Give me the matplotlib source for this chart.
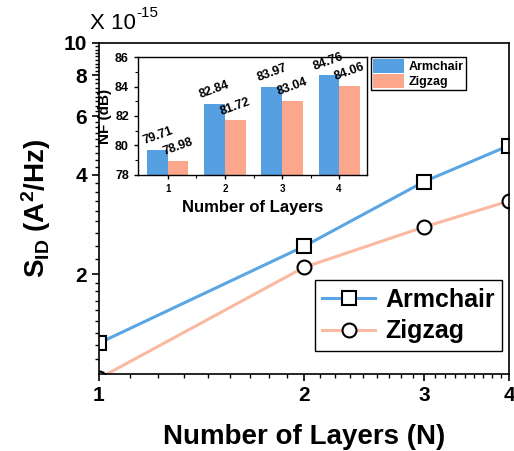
import numpy as np
import matplotlib.pyplot as plt
from matplotlib.ticker import FixedLocator, NullFormatter

plt.rcParams['font.family'] = ['Liberation Sans', 'DejaVu Sans']
plt.rcParams['font.weight'] = 'bold'
plt.rcParams['axes.labelweight'] = 'bold'
plt.rcParams['mathtext.fontset'] = 'custom'
plt.rcParams['mathtext.rm'] = 'Liberation Sans:bold'
plt.rcParams['mathtext.bf'] = 'Liberation Sans:bold'
plt.rcParams['mathtext.it'] = 'Liberation Sans:bold'

# main plot: noise PSD (x 1e-15 A^2/Hz)
layers = [1, 2, 3, 4]
sid_armchair = [1.24, 2.43, 3.81, 4.90]
sid_zigzag = [0.97, 2.10, 2.78, 3.33]

# inset: noise figure (dB)
nf_armchair = [79.71, 82.84, 83.97, 84.76]
nf_zigzag = [78.98, 81.72, 83.04, 84.06]

BLUE_LINE = '#5AA6E4'
SALMON_LINE = '#FBB9A2'
BLUE_BAR = '#56A0E2'
SALMON_BAR = '#FCA68C'

fig = plt.figure(figsize=(5.14, 4.51), dpi=100)
ax = fig.add_axes([0.1926, 0.1707, 0.7977, 0.734])

ax.plot(layers, sid_armchair, '-s', color=BLUE_LINE, lw=2.2, ms=9.5,
        mfc='white', mec='black', mew=1.5, label='Armchair')
ax.plot(layers, sid_zigzag, '-o', color=SALMON_LINE, lw=2.2, ms=10,
        mfc='white', mec='black', mew=1.5, label='Zigzag')

ax.set_xscale('log')
ax.set_yscale('log')
ax.set_xlim(1, 4)
ax.set_ylim(1, 10)

ax.xaxis.set_major_locator(FixedLocator([1, 2, 3, 4]))
ax.xaxis.set_major_formatter(plt.FixedFormatter(['1', '2', '3', '4']))
xminor = []
for a in range(1, 4):
    xminor += [a + k / 9 for k in range(1, 9)]
ax.xaxis.set_minor_locator(FixedLocator(xminor))
ax.xaxis.set_minor_formatter(NullFormatter())

ax.yaxis.set_major_locator(FixedLocator([2, 4, 6, 8, 10]))
ax.yaxis.set_major_formatter(plt.FixedFormatter(['2', '4', '6', '8', '10']))
yminor = [1 + k / 9 for k in range(1, 9)]
for a in [2, 4, 6, 8]:
    yminor += [a + 2 * k / 9 for k in range(1, 9)]
ax.yaxis.set_minor_locator(FixedLocator(yminor))
ax.yaxis.set_minor_formatter(NullFormatter())

ax.tick_params(which='major', direction='out', length=5, width=1.2, labelsize=15)
ax.tick_params(which='minor', direction='out', length=3, width=1.0)
for s in ax.spines.values():
    s.set_linewidth(1.2)

ax.set_xlabel('Number of Layers (N)', fontsize=20, labelpad=14)
ax.set_ylabel(r'S$_{\rm ID}$ (A$^{\rm 2}$/Hz)', fontsize=20, labelpad=8)
fig.text(0.176, 0.935, 'X 10', fontsize=16, fontweight='normal')
fig.text(0.266, 0.962, '-15', fontsize=11, fontweight='normal')

leg = ax.legend(loc='lower right', bbox_to_anchor=(0.983, 0.07), borderaxespad=0,
                fontsize=18, handlelength=2.1, fancybox=False, edgecolor='black',
                framealpha=1, borderpad=0.3, labelspacing=0.3, handletextpad=0.4)
leg.get_frame().set_linewidth(1.0)

# inset bar chart
ins = fig.add_axes([0.2685, 0.612, 0.4455, 0.2616])
x = np.array(layers)
w = 0.36
ins.bar(x - w / 2, np.array(nf_armchair) - 78, w, bottom=78, color=BLUE_BAR,
        label='Armchair')
ins.bar(x + w / 2, np.array(nf_zigzag) - 78, w, bottom=78, color=SALMON_BAR,
        label='Zigzag')
for xi, v in zip(x - w / 2, nf_armchair):
    ins.annotate(f'{v:.2f}', (xi, v), xytext=(0, 2), textcoords='offset points',
                 ha='center', va='bottom', rotation=20, fontsize=9)
for xi, v in zip(x + w / 2, nf_zigzag):
    ins.annotate(f'{v:.2f}', (xi, v), xytext=(0, 2), textcoords='offset points',
                 ha='center', va='bottom', rotation=20, fontsize=9)

ins.set_xlim(0.475, 4.49)
ins.set_ylim(78, 86)
ins.set_xticks(layers)
ins.set_xticks([1.5, 2.5, 3.5], minor=True)
ins.set_yticks([78, 80, 82, 84, 86])
ins.set_yticks([79, 81, 83, 85], minor=True)
ins.tick_params(axis='x', which='major', labelsize=7, length=3, width=1)
ins.tick_params(axis='y', which='major', labelsize=9, length=3, width=1)
ins.tick_params(which='minor', length=2, width=0.8)
for s in ins.spines.values():
    s.set_linewidth(1.0)
ins.set_xlabel('Number of Layers', fontsize=12, labelpad=4)
ins.set_ylabel('NF (dB)', fontsize=11, labelpad=2)

ileg = ins.legend(loc='upper left', bbox_to_anchor=(1.017, 1.0), borderaxespad=0,
                  fontsize=9, handlelength=2.5, handleheight=1.3, fancybox=False,
                  edgecolor='black', framealpha=1, borderpad=0.15,
                  labelspacing=0.1, handletextpad=0.4)
ileg.get_frame().set_linewidth(1.0)

fig.savefig('out.png', dpi=100)
